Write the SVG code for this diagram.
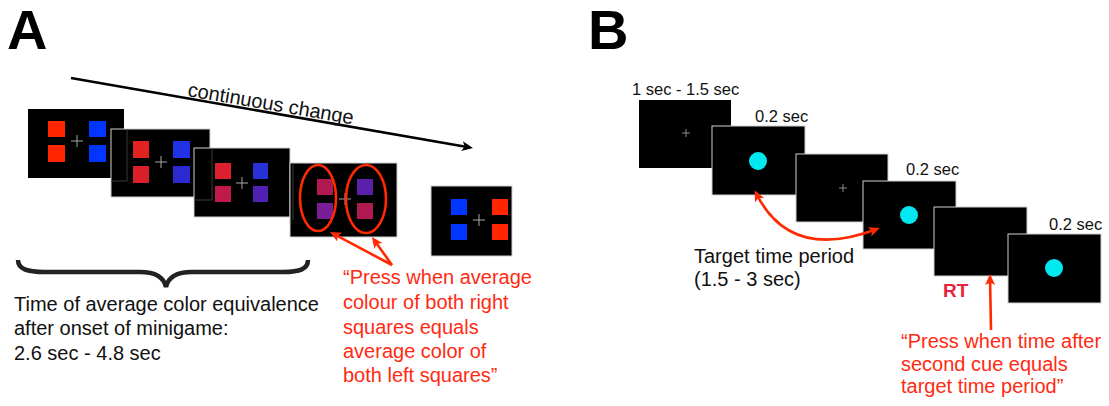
<svg xmlns="http://www.w3.org/2000/svg" width="1109" height="406" viewBox="0 0 1109 406">
  <style>
    text { font-family: "Liberation Sans", Arial, Helvetica, sans-serif; }
    .panel { font-size: 56px; font-weight: bold; fill: #000; }
    .lbl { font-size: 20px; fill: #111; }
    .small { font-size: 16.5px; fill: #111; }
    .red { font-size: 20px; fill: #ff2a12; }
    .rt { font-size: 19px; font-weight: bold; fill: #e8253a; }
    .screen { fill: #000; }
    .edge { fill: #000; stroke: #cfcfcf; stroke-width: 1; }
    .ghost { fill: none; stroke: #4a4a4a; stroke-width: 0.8; }
    .fix { stroke: #a8a8a8; stroke-width: 1; fill: none; }
    .fixs { stroke: #9a9a9a; stroke-width: 0.9; fill: none; }
    .cue { fill: #00e8f0; }
    .redline { fill: none; stroke: #ff2a00; stroke-width: 2.6; }
  </style>
  <defs>
    <marker id="headBlack" markerUnits="userSpaceOnUse" markerWidth="14" markerHeight="12" refX="8" refY="5" orient="auto">
      <path d="M0,0 L11,5 L0,10 L2.5,5 z" fill="#000"/>
    </marker>
    <marker id="headRed" markerUnits="userSpaceOnUse" markerWidth="14" markerHeight="12" refX="8" refY="5" orient="auto-start-reverse">
      <path d="M0,0 L11,5 L0,10 L2.5,5 z" fill="#ff2a00"/>
    </marker>
  </defs>

  <!-- panel letters -->
  <text class="panel" x="7" y="49">A</text>
  <text class="panel" x="588" y="49">B</text>

  <!-- ===== Panel A: minigame screens ===== -->
  <g id="screenA1">
    <rect class="screen" x="28" y="109" width="96" height="69"/>
    <rect x="48" y="121" width="17" height="16" fill="#ff2600"/>
    <rect x="48" y="145" width="17" height="17" fill="#ff2600"/>
    <rect x="89" y="121" width="17" height="16" fill="#0036ff"/>
    <rect x="89" y="145" width="17" height="17" fill="#0036ff"/>
    <path class="fix" d="M71,141 H83 M77,135 V147"/>
  </g>
  <g id="screenA2">
    <rect class="edge" x="111" y="129" width="99" height="68"/>
    <path class="ghost" d="M127,129 V181 H111"/>
    <rect x="133" y="141" width="16" height="17" fill="#e32222"/>
    <rect x="133" y="166" width="16" height="17" fill="#d9202a"/>
    <rect x="173" y="141" width="17" height="17" fill="#1f32e6"/>
    <rect x="173" y="166" width="17" height="17" fill="#2b2ad0"/>
    <path class="fix" d="M155,162 H167 M161,156 V168"/>
  </g>
  <g id="screenA3">
    <rect class="edge" x="194" y="148" width="96" height="69"/>
    <path class="ghost" d="M212,148 V200 H194"/>
    <rect x="215" y="163" width="16" height="16" fill="#dd2030"/>
    <rect x="215" y="186" width="16" height="16" fill="#c01a4a"/>
    <rect x="253" y="163" width="15" height="16" fill="#2a30d8"/>
    <rect x="253" y="186" width="15" height="16" fill="#5020b2"/>
    <path class="fix" d="M236,183 H248 M242,177 V189"/>
  </g>
  <g id="screenA4">
    <rect class="edge" x="290" y="163" width="107" height="74"/>
    <path class="ghost" d="M293,163 V220"/>
    <rect x="317" y="179" width="16" height="16" fill="#b01a50"/>
    <rect x="317" y="203" width="16" height="16" fill="#7a1e98"/>
    <rect x="357" y="179" width="16" height="16" fill="#5a20aa"/>
    <rect x="357" y="203" width="16" height="16" fill="#b01a50"/>
    <path class="fix" d="M339,199 H351 M345,193 V205"/>
    <ellipse class="redline" cx="318" cy="198" rx="18" ry="33"/>
    <ellipse class="redline" cx="366" cy="199" rx="20" ry="34"/>
  </g>
  <g id="screenA5">
    <rect class="edge" x="431" y="186" width="81" height="70"/>
    <rect x="451" y="199" width="16" height="16" fill="#0036ff"/>
    <rect x="451" y="224" width="16" height="16" fill="#0036ff"/>
    <rect x="492" y="199" width="16" height="16" fill="#ff2600"/>
    <rect x="492" y="224" width="16" height="16" fill="#ff2600"/>
    <path class="fix" d="M473,220 H485 M479,214 V226"/>
  </g>

  <!-- ===== Panel B: timing screens ===== -->
  <g id="screenB1">
    <rect class="screen" x="639" y="100" width="92" height="68"/>
    <path class="fixs" d="M682,133 H690 M686,129 V137"/>
  </g>
  <g id="screenB2">
    <rect class="edge" x="712" y="126" width="93" height="69"/>
    <circle class="cue" cx="758" cy="161" r="9"/>
  </g>
  <g id="screenB3">
    <rect class="edge" x="796" y="154" width="92" height="68"/>
    <path class="fixs" d="M839,188 H847 M843,184 V192"/>
  </g>
  <g id="screenB4">
    <rect class="edge" x="863" y="181" width="93" height="68"/>
    <circle class="cue" cx="909" cy="215" r="9"/>
  </g>
  <g id="screenB5">
    <rect class="edge" x="934" y="207" width="93" height="69"/>
  </g>
  <g id="screenB6">
    <rect class="edge" x="1008" y="234" width="93" height="69"/>
    <circle class="cue" cx="1054" cy="268" r="9"/>
  </g>

  <!-- connectors -->
  <g id="connectors">
    <line x1="71" y1="78" x2="470" y2="147.5" stroke="#000" stroke-width="2.6" marker-end="url(#headBlack)"/>
    <path d="M18,260 C18,269 27,272 45,272 L140,272 C157,272 164,278 166,287 C168,278 175,272 192,272 L283,272 C300,272 308,269 308,260" fill="none" stroke="#222" stroke-width="4.5"/>
    <line class="redline" x1="392" y1="265" x2="332.6" y2="233.4" marker-end="url(#headRed)"/>
    <line class="redline" x1="392" y1="265" x2="373.7" y2="239.4" marker-end="url(#headRed)"/>
    <path class="redline" d="M756,193 Q790,262 877,229" marker-start="url(#headRed)" marker-end="url(#headRed)"/>
    <line class="redline" x1="991" y1="330" x2="990" y2="277" marker-end="url(#headRed)"/>
  </g>

  <!-- labels, panel A -->
  <text class="lbl" transform="translate(187,96) rotate(9.7)">continuous change</text>
  <text class="lbl" x="14" y="311">Time of average color equivalence</text>
  <text class="lbl" x="14" y="335">after onset of minigame:</text>
  <text class="lbl" x="14" y="360">2.6 sec - 4.8 sec</text>
  <text class="red" x="343" y="284">“Press when average</text>
  <text class="red" x="343" y="309">colour of both right</text>
  <text class="red" x="343" y="334">squares equals</text>
  <text class="red" x="343" y="358">average color of</text>
  <text class="red" x="343" y="382">both left squares”</text>

  <!-- labels, panel B -->
  <text class="small" x="632" y="95">1 sec - 1.5 sec</text>
  <text class="small" x="755" y="122">0.2 sec</text>
  <text class="small" x="906" y="175">0.2 sec</text>
  <text class="small" x="1049" y="230">0.2 sec</text>
  <text class="lbl" x="694" y="263">Target time period</text>
  <text class="lbl" x="694" y="286">(1.5 - 3 sec)</text>
  <text class="rt" x="943" y="297">RT</text>
  <text class="red" x="901" y="348">“Press when time after</text>
  <text class="red" x="901" y="371">second cue equals</text>
  <text class="red" x="901" y="393">target time period”</text>
</svg>
